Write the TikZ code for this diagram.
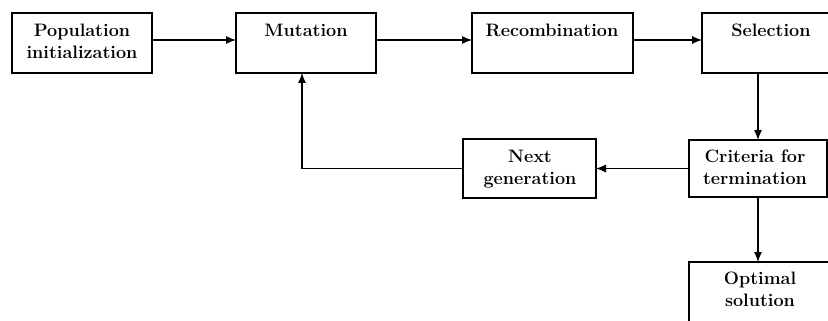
\documentclass[tikz,border=0pt]{standalone}
\usetikzlibrary{arrows.meta}
\newcommand{\hb}{\rule{0pt}{14pt}}
\begin{document}
\begin{tikzpicture}[x=1pt,y=-1pt,
  box/.style={draw,line width=1.2pt,rectangle,inner sep=0pt,outer sep=0pt,anchor=north west},
  lbl/.style={anchor=north,align=center,inner sep=0pt,font=\fontsize{18}{22.5}\selectfont\bfseries},
  arr/.style={line width=1.1pt,-{Latex[length=10pt,width=8pt]}}]
\useasboundingbox (0,0) rectangle (828,321);
\clip (0,0) rectangle (828,321);
% boxes
\node[box,minimum width=140pt,minimum height=60pt] (pop) at (12,13) {};
\node[box,minimum width=140pt,minimum height=60pt] (mut) at (236,13) {};
\node[box,minimum width=161pt,minimum height=60pt] (rec) at (472,13) {};
\node[box,minimum width=140pt,minimum height=60pt] (sel) at (702,13) {};
\node[box,minimum width=133pt,minimum height=59pt] (nxt) at (463,139) {};
\node[box,minimum width=138pt,minimum height=57pt] (crit) at (689,140) {};
\node[box,minimum width=140pt,minimum height=80pt] (opt) at (689,262) {};
% labels
\node[lbl] (popt) at (82,22) {\hb Population\\initialization};
\node[lbl] (mutt) at (306,22) {\hb Mutation};
\node[lbl] (rect) at (552,22) {\hb Recombination};
\node[lbl] (selt) at (771,22) {\hb Selection};
\node[lbl] (nxtt) at (530,148) {\hb Next\\generation};
\node[lbl] (critt) at (755,148) {\hb Criteria for\\termination};
\node[lbl] (optt) at (760,270) {\hb Optimal\\solution};
% connectors
\draw[arr] ([yshift=3pt]pop.east) -- ([yshift=3pt]mut.west);
\draw[arr] ([yshift=3pt]mut.east) -- ([yshift=3pt]rec.west);
\draw[arr] ([yshift=3pt]rec.east) -- ([yshift=3pt]sel.west);
\draw[arr] (crit.north |- sel.south) -- (crit.north);
\draw[arr] (crit.west) -- (nxt.east);
\draw[arr] (nxt.west) -| ([xshift=-4pt]mut.south);
\draw[arr] (crit.south) -- (crit.south |- opt.north);
\end{tikzpicture}
\end{document}
